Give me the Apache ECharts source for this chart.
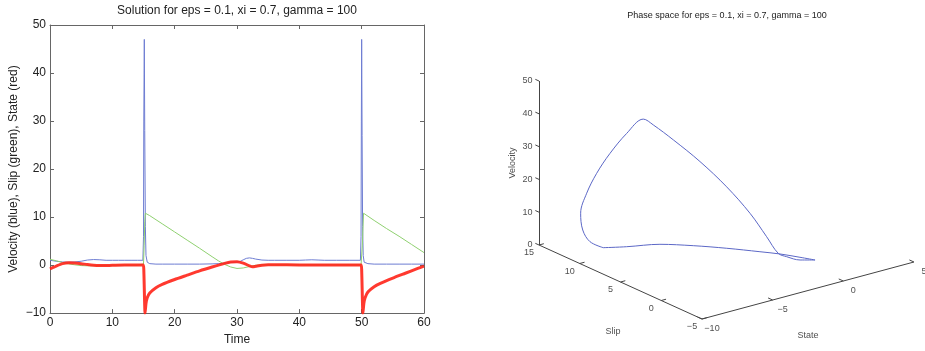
<!DOCTYPE html>
<html>
<head>
<meta charset="utf-8">
<script src="https://cdn.jsdelivr.net/npm/echarts@6/dist/echarts.min.js"></script>
<style>
    html, body {margin: 0; padding: 0; background: #fff;}
    #main {width: 925px; height: 351px;}
</style>
</head>
<body>
<div id="main"></div>
<script>
// ---- left panel : time series ----
let velT = [0,1,2,3,4,5,6,7,8,9,10,11,12,13,14,14.9,15.0,15.05,15.13,15.2,15.3,15.4,15.6,16,17,18,20,22,24,26,27,28,29,30,30.5,31,31.5,32,32.5,33,34,35,36,38,40,41,42,43,44,46,48,49.8,49.9,49.95,50.0,50.07,50.15,50.25,50.4,51,52,54,56,58,60];
let velV = [1.0,0.8,0.65,0.6,0.65,0.8,1.05,1.15,1.1,1.0,1.0,1.0,1.0,1.0,1.0,1.0,6,30,47,28,8,2,0.6,0.3,0.2,0.2,0.2,0.2,0.2,0.25,0.3,0.4,0.55,0.65,0.75,1.1,1.4,1.5,1.4,1.25,1.05,1.0,1.0,1.0,1.0,1.05,1.1,1.05,1.0,1.0,1.0,1.0,6,30,47,27,8,2,0.6,0.3,0.2,0.2,0.2,0.2,0.2];

let slipT = [0,1,2,3,4,5,6,8,10,12,14,15.0,15.1,15.2,15.3,16,18,20,22,24,26,27,28,29,30,31,32,33,34,36,40,44,48,49.9,50.0,50.1,50.3,52,54,56,58,60];
let slipV = [1.2,0.9,0.55,0.25,0.05,-0.1,-0.15,-0.1,-0.05,0,0,0.2,4,9,10.8,10.3,8.6,6.9,5.2,3.5,1.75,0.9,0.15,-0.4,-0.7,-0.6,-0.3,-0.05,0.05,0.05,0.05,0.05,0.05,0.05,0.2,4,10.8,9.3,7.6,6,4.3,2.6];

let stateT = [0,0.5,1,2,3,4,5,6,7,8,10,12,14,14.95,15.05,15.25,15.4,15.6,16,17,18,20,22,24,26,28,29,30,31,32,32.5,33,34,35,38,42,46,49.9,50.0,50.2,50.35,50.55,51,52,53,55,57,59,60];
let stateV = [-0.8,-0.5,-0.2,0.3,0.5,0.45,0.3,0.1,-0.05,-0.1,-0.05,0,0,0,-1,-10,-8,-6.8,-5.8,-4.7,-4,-3,-2.1,-1.2,-0.4,0.35,0.65,0.7,0.4,-0.15,-0.35,-0.25,-0.05,0.05,0.05,0,0,0,-1,-10,-8,-6.8,-5.6,-4.5,-3.8,-2.7,-1.7,-0.7,-0.2];

// ---- right panel : phase space (state, slip, velocity) ----
let phaseSlip  = [10.8,10,8.5,6.8,5,3.2,2,0.8,-0.2,-0.3,-0.2,0,0.8,1.5,2.5,3.5,4.5,5.5,6,7,8,9,9.7,10.2,10.5,10.7,10.8];
let phaseState = [-7.87,-6.68,-5.19,-3.81,-2.48,-1.17,-0.44,0.28,0.77,-0.35,-1.24,-1.72,-2.08,-2.85,-3.93,-5.24,-6.55,-7.39,-7.81,-8.41,-9.01,-9.38,-9.68,-9.82,-9.50,-8.87,-7.87];
let phaseVel   = [1.45,1.27,1.97,1.87,1.57,1.03,0.85,0.36,0.1,1.51,3.43,4.79,9.37,16.6,24.8,32.9,39.9,44.3,46.0,41.2,34.7,27.9,21.4,14.9,9.07,4.55,1.45];

let velTicks = [0,10,20,30,40,50];
let slipTicks = [15,10,5,0,-5];
let stateTicks = [-10,-5,0,5];

let fontName = 'Liberation Sans, Arial, sans-serif';
let minus = function (v) { return String(v).replace('-', '\u2212'); };

function pairs(xs, ys) {
    let out = [];
    for (let i = 0; i < xs.length; i++) out.push([xs[i], ys[i]]);
    return out;
}

// simple oblique view of the 3D box, output in page pixels
function proj(state, slip, vel) {
    return [539 + (slip - 15) * -8.15 + (state + 10) * 14.13,
            245 + (slip - 15) * -3.7 + (state + 10) * -3.8 - vel * 3.28];
}

let phasePts = [];
for (let i = 0; i < phaseVel.length; i++) {
    phasePts.push(proj(phaseState[i], phaseSlip[i], phaseVel[i]));
}

// box axes + tick marks
let axisSegs = [
    {coords: [proj(-10, 15, 0), proj(-10, 15, 50)]},
    {coords: [proj(-10, 15, 0), proj(-10, -5, 0)]},
    {coords: [proj(-10, -5, 0), proj(5, -5, 0)]}
];
velTicks.forEach(function (v) {
    axisSegs.push({coords: [proj(-10, 15, v), proj(-10, 15.45, v)]});
});
slipTicks.forEach(function (s) {
    axisSegs.push({coords: [proj(-10, s, 0), proj(-9.66, s, 0)]});
});
stateTicks.forEach(function (s) {
    axisSegs.push({coords: [proj(s, -5, 0), proj(s, -4.44, 0)]});
});

function tickLabels(list, fn) {
    return list.map(function (v) { return {value: fn(v), name: minus(v)}; });
}

let boxAxis = {onZero: false, lineStyle: {color: '#666'}};
let boxTick = {inside: true, length: 4, lineStyle: {color: '#666'}};

let chart = echarts.init(document.getElementById('main'));
let option = {
    animation: false,
    textStyle: {fontFamily: fontName},
    graphic: [
        {type: 'text', x: 237, y: 5, style: {text: 'Solution for eps = 0.1, xi = 0.7, gamma = 100', fontSize: 12, fontFamily: fontName, fill: '#222', align: 'center'}},
        {type: 'text', x: 727, y: 11, style: {text: 'Phase space for eps = 0.1, xi = 0.7, gamma = 100', fontSize: 9, fontFamily: fontName, fill: '#222', align: 'center'}}
    ],
    grid: [
        {left: 50, top: 25, width: 374, height: 295},
        {left: 0, top: 0, width: 925, height: 351}
    ],
    xAxis: [
        {gridIndex: 0, type: 'value', min: 0, max: 60, interval: 10, name: 'Time', nameLocation: 'middle', nameGap: 17,
            nameTextStyle: {fontSize: 12, color: '#222'},
            axisLine: boxAxis, axisTick: boxTick,
            axisLabel: {fontSize: 12, color: '#222', margin: 4}, splitLine: {show: false}},
        {gridIndex: 0, type: 'value', position: 'top', min: 0, max: 60, interval: 10,
            axisLine: boxAxis, axisTick: boxTick,
            axisLabel: {show: false}, splitLine: {show: false}},
        {gridIndex: 1, type: 'value', min: 0, max: 925, show: false}
    ],
    yAxis: [
        {gridIndex: 0, type: 'value', min: -10, max: 50, interval: 10,
            name: 'Velocity (blue), Slip (green), State (red)', nameLocation: 'middle', nameGap: 30,
            nameTextStyle: {fontSize: 12, color: '#222'},
            axisLine: boxAxis, axisTick: boxTick,
            axisLabel: {fontSize: 12, color: '#222', margin: 4, formatter: minus}, splitLine: {show: false}},
        {gridIndex: 0, type: 'value', position: 'right', min: -10, max: 50, interval: 10,
            axisLine: boxAxis, axisTick: boxTick,
            axisLabel: {show: false}, splitLine: {show: false}},
        {gridIndex: 1, type: 'value', min: 0, max: 351, inverse: true, show: false}
    ],
    series: [
        {type: 'line', xAxisIndex: 0, yAxisIndex: 0, data: pairs(velT, velV), showSymbol: false,
            lineStyle: {color: '#6d7cd2', width: 1}},
        {type: 'line', xAxisIndex: 0, yAxisIndex: 0, data: pairs(slipT, slipV), showSymbol: false,
            lineStyle: {color: '#8fd070', width: 1}},
        {type: 'line', xAxisIndex: 0, yAxisIndex: 0, data: pairs(stateT, stateV), showSymbol: false, smooth: 0.2,
            lineStyle: {color: '#ff2418', width: 3, opacity: 0.9}},

        {type: 'lines', coordinateSystem: 'cartesian2d', xAxisIndex: 2, yAxisIndex: 2, silent: true,
            data: axisSegs, lineStyle: {color: '#444', width: 1, opacity: 1}},
        {type: 'line', xAxisIndex: 2, yAxisIndex: 2, data: phasePts, showSymbol: false, smooth: 0.35,
            lineStyle: {color: '#5b67c6', width: 1}},
        {type: 'scatter', xAxisIndex: 2, yAxisIndex: 2, symbolSize: 1, itemStyle: {color: 'transparent'}, silent: true,
            data: tickLabels(velTicks, function (v) { return proj(-10, 15, v); }),
            label: {show: true, position: 'left', distance: 6, formatter: '{b}', fontSize: 9, color: '#222'}},
        {type: 'scatter', xAxisIndex: 2, yAxisIndex: 2, symbolSize: 1, itemStyle: {color: 'transparent'}, silent: true,
            data: tickLabels(slipTicks, function (v) { return proj(-10, v, 0); }),
            label: {show: true, position: 'inside', offset: [-10, 8], formatter: '{b}', fontSize: 9, color: '#222'}},
        {type: 'scatter', xAxisIndex: 2, yAxisIndex: 2, symbolSize: 1, itemStyle: {color: 'transparent'}, silent: true,
            data: tickLabels(stateTicks, function (v) { return proj(v, -5, 0); }),
            label: {show: true, position: 'inside', offset: [10, 10], formatter: '{b}', fontSize: 9, color: '#222'}},
        {type: 'scatter', xAxisIndex: 2, yAxisIndex: 2, symbolSize: 1, itemStyle: {color: 'transparent'}, silent: true,
            data: [
                {value: [513, 163], name: 'Velocity', label: {rotate: 90}},
                {value: [613, 332], name: 'Slip'},
                {value: [808, 336], name: 'State'}
            ],
            label: {show: true, position: 'inside', formatter: '{b}', fontSize: 9, color: '#222'}}
    ]
};
chart.setOption(option);
</script>
</body>
</html>
